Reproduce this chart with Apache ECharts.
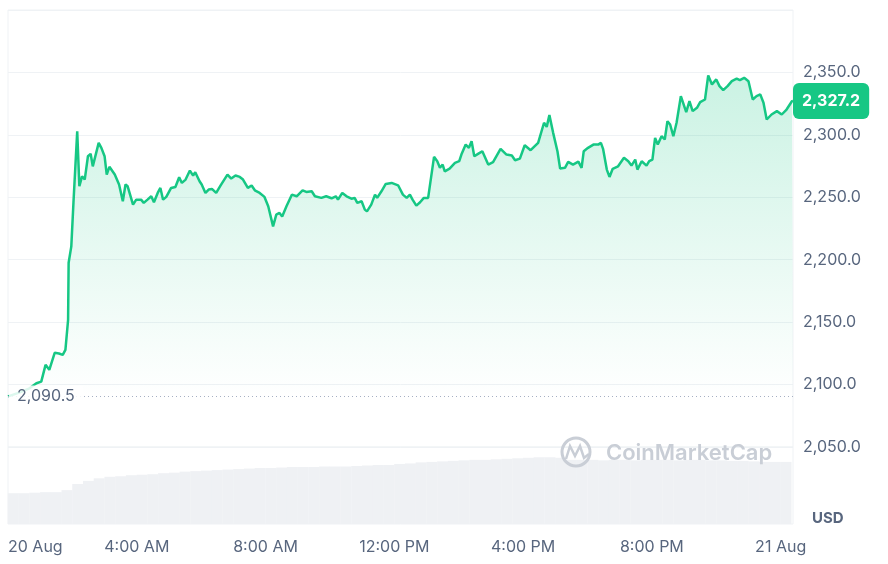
<!DOCTYPE html>
<html>
<head>
<meta charset="utf-8">
<script src="https://cdn.jsdelivr.net/npm/echarts@6/dist/echarts.min.js"></script>
<style>
html,body{margin:0;padding:0;background:#fff;}
#chart{width:888px;height:564px;}
</style>
</head>
<body>
<div id="chart"></div>
<script>
// minutes after 20 Aug 00:00
const times = [
  0,21,40,53,62,70,77,87,95,102,
  107,112,113,118,122,129,133,138,143,149,
  154,158,169,174,180,184,189,199,207,214,
  219,223,233,239,248,253,260,267,272,279,
  284,289,295,304,312,319,324,331,339,345,
  349,357,361,368,374,380,388,396,409,416,
  424,432,438,447,454,460,469,478,485,494,
  500,506,511,519,529,538,549,556,566,572,
  584,593,603,611,615,623,631,640,646,651,
  659,665,669,677,684,688,696,704,715,727,
  736,743,749,754,761,768,775,783,794,800,
  805,810,814,823,833,841,845,853,859,864,
  869,876,884,895,904,918,929,939,945,954,
  963,974,988,999,1004,1009,1016,1024,1029,1038,
  1044,1053,1063,1069,1073,1081,1091,1100,1105,1109,
  1116,1121,1127,1137,1148,1156,1162,1169,1173,1181,
  1190,1195,1201,1206,1211,1218,1224,1229,1234,1240,
  1246,1254,1264,1270,1276,1284,1290,1299,1305,1312,
  1320,1326,1333,1341,1349,1358,1364,1372,1380,1388,
  1395,1402,1408,1414,1423,1433,1442,1451,1461,1463
];
const prices = [
  2090.5,2093.6,2097.0,2101.1,2102.4,2115.8,2111.8,2125.4,2124.9,2123.8,
  2127.8,2151.9,2197.6,2210.7,2245.7,2302.9,2258.8,2266.8,2264.2,2282.9,
  2284.8,2274.8,2293.6,2289.6,2282.9,2268.2,2274.4,2268.2,2260.2,2246.8,
  2260.2,2258.8,2244.1,2248.1,2248.1,2245.5,2248.1,2250.8,2246.0,2253.5,
  2257.5,2248.1,2250.3,2257.5,2258.3,2266.0,2261.5,2264.2,2271.4,2267.4,
  2270.0,2262.8,2260.2,2253.5,2256.2,2256.7,2253.5,2259.4,2268.2,2265.0,
  2267.4,2266.3,2264.2,2257.5,2259.4,2255.6,2253.5,2250.3,2242.8,2226.7,
  2236.1,2237.5,2234.7,2242.8,2252.1,2250.8,2255.6,2254.3,2254.8,2250.8,
  2249.5,2250.8,2249.2,2250.8,2248.1,2253.5,2250.8,2248.9,2249.5,2245.5,
  2246.8,2240.1,2238.7,2244.1,2252.1,2249.5,2254.8,2260.7,2261.5,2259.6,
  2252.1,2249.5,2252.1,2248.1,2243.3,2246.0,2249.5,2249.5,2282.4,2278.9,
  2273.6,2276.2,2270.8,2273.0,2277.6,2278.9,2284.2,2292.2,2289.6,2294.9,
  2282.9,2284.8,2286.9,2276.2,2278.1,2288.8,2284.2,2283.4,2279.7,2281.0,
  2291.7,2287.7,2293.6,2309.7,2306.4,2315.8,2301.6,2286.9,2273.0,2273.6,
  2278.4,2276.2,2278.6,2273.6,2286.9,2289.6,2292.2,2292.2,2293.6,2288.8,
  2272.2,2266.3,2272.8,2274.8,2281.6,2278.9,2275.4,2280.2,2272.2,2278.9,
  2275.4,2278.9,2280.2,2297.6,2292.2,2298.9,2296.3,2310.9,2308.3,2298.9,
  2309.7,2331.0,2318.2,2327.0,2319.0,2321.7,2326.2,2328.3,2347.6,2340.4,
  2344.4,2339.0,2335.8,2339.0,2343.0,2345.0,2343.8,2345.7,2343.0,2328.3,
  2331.0,2332.4,2325.7,2312.3,2316.3,2319.0,2316.3,2320.3,2326.9,2327.2
];
// volume bars (20-minute buckets, centre minute) and values (relative units)
const volTimes = [
  10,30,50,70,90,110,130,150,170,190,
  210,230,250,270,290,310,330,350,370,390,
  410,430,450,470,490,510,530,550,570,590,
  610,630,650,670,690,710,730,750,770,790,
  810,830,850,870,890,910,930,950,970,990,
  1010,1030,1050,1070,1090,1110,1130,1150,1170,1190,
  1210,1230,1250,1270,1290,1310,1330,1350,1370,1390,
  1410,1430,1450
];
const volumes = [
  6.0,6.0,6.1,6.2,6.2,6.6,7.8,8.4,8.9,9.2,
  9.3,9.5,9.6,9.7,9.9,10.0,10.2,10.3,10.4,10.5,
  10.6,10.7,10.8,10.9,10.9,11.0,11.1,11.1,11.1,11.2,
  11.2,11.2,11.3,11.4,11.5,11.5,11.7,11.8,12.0,12.1,
  12.2,12.3,12.4,12.5,12.5,12.6,12.7,12.8,12.9,13.0,
  13.0,12.9,12.5,12.5,12.5,12.4,12.5,12.5,12.4,12.5,
  12.5,12.5,12.4,12.5,12.5,12.4,12.4,12.3,12.3,12.2,
  12.1,12.1,12.1
];
const xTickMinutes = [0,240,480,720,960,1200,1440];
const xTickLabels = ['20 Aug','4:00 AM','8:00 AM','12:00 PM','4:00 PM','8:00 PM','21 Aug'];
const priceTicks = [2050,2100,2150,2200,2250,2300,2350];
const priceTickLabels = ['2,050.0','2,100.0','2,150.0','2,200.0','2,250.0','2,300.0','2,350.0'];
const openPrice = 2090.5;
const openLabel = '2,090.5';
const lastPrice = 2327.2;
const lastLabel = '2,327.2';

const FONT = 'Inter, "Noto Sans", sans-serif';
const LABEL_COLOR = '#58667e';
const GREEN = '#16c784';
const GRID_LINE = '#eff2f5';

const chart = echarts.init(document.getElementById('chart'), null, {renderer: 'canvas'});
const priceData = times.map((t, i) => [t, prices[i]]);
const volData = volTimes.map((t, i) => [t, volumes[i]]);

chart.setOption({
  animation: false,
  backgroundColor: '#fff',
  textStyle: {fontFamily: FONT},
  grid: [
    {left: 8, right: 95, top: 10, bottom: 117, show: true, borderColor: GRID_LINE, borderWidth: 1},
    {left: 8, right: 95, top: 447, bottom: 40, show: true, borderColor: GRID_LINE, borderWidth: 1}
  ],
  xAxis: [
    {type: 'value', gridIndex: 0, min: 0, max: 1463, interval: 240,
     axisLine: {show: false}, axisTick: {show: false}, axisLabel: {show: false}, splitLine: {show: false}},
    {type: 'value', gridIndex: 1, min: 0, max: 1463, interval: 240,
     axisLine: {show: false}, axisTick: {show: false}, splitLine: {show: false},
     axisLabel: {
       color: LABEL_COLOR, fontSize: 16, fontFamily: FONT, margin: 15,
       alignMinLabel: 'left',
       formatter: function (v) { const i = xTickMinutes.indexOf(v); return i >= 0 ? xTickLabels[i] : ''; }
     }}
  ],
  yAxis: [
    {type: 'value', gridIndex: 0, position: 'right', min: 2050, max: 2400, interval: 50,
     axisLine: {show: false}, axisTick: {show: false},
     splitLine: {show: true, lineStyle: {color: GRID_LINE, width: 1}},
     axisLabel: {
       color: LABEL_COLOR, fontSize: 16, fontFamily: FONT, margin: 10,
       formatter: function (v) { const i = priceTicks.indexOf(v); return i >= 0 ? priceTickLabels[i] : ''; }
     }},
    {type: 'value', gridIndex: 1, min: 0, max: 15, show: false, splitLine: {show: false}}
  ],
  series: [
    {
      type: 'bar', xAxisIndex: 1, yAxisIndex: 1, data: volData,
      barWidth: 11, itemStyle: {color: '#eff1f4'}, silent: true
    },
    {
      type: 'line', xAxisIndex: 0, yAxisIndex: 0, data: priceData,
      showSymbol: false, symbol: 'none', smooth: false,
      lineStyle: {color: GREEN, width: 2.5},
      areaStyle: {
        origin: openPrice,
        color: new echarts.graphic.LinearGradient(0, 0, 0, 1, [
          {offset: 0, color: 'rgba(22,199,132,0.32)'},
          {offset: 1, color: 'rgba(22,199,132,0.0)'}
        ])
      },
      silent: true,
      markLine: {
        silent: true,
        symbol: ['none', 'none'],
        animation: false,
        data: [
          {
            yAxis: openPrice,
            lineStyle: {type: [1, 3], color: '#a6b0c3', width: 1},
            label: {
              show: true, position: 'insideStart', distance: 1,
              formatter: openLabel, color: LABEL_COLOR, fontSize: 16, fontFamily: FONT,
              backgroundColor: 'rgba(255,255,255,0.85)', padding: [3, 8, 3, 8]
            }
          },
          {
            yAxis: lastPrice,
            lineStyle: {color: 'rgba(0,0,0,0)', width: 0},
            label: {
              show: true, position: 'end', distance: 0,
              formatter: lastLabel, color: '#fff', fontSize: 16, fontWeight: 'bold', fontFamily: FONT,
              backgroundColor: GREEN, padding: [10, 9, 10, 9], borderRadius: 6
            }
          }
        ]
      }
    }
  ],
  graphic: [
    {type: 'text', z: 20, x: 812, y: 518,
     style: {text: 'USD', fill: LABEL_COLOR, font: 'bold 15px ' + FONT, textVerticalAlign: 'middle', verticalAlign: 'middle'}},
    {type: 'circle', z: 20, shape: {cx: 576, cy: 452, r: 14},
     style: {fill: 'none', stroke: '#c9ced6', lineWidth: 3}},
    {type: 'polyline', z: 20, shape: {points: [[566, 459], [570, 446], [575, 456], [580, 446], [584, 458], [589, 454]]},
     style: {fill: 'none', stroke: '#c9ced6', lineWidth: 2.5}},
    {type: 'text', z: 20, x: 606, y: 453,
     style: {text: 'CoinMarketCap', fill: '#c9ced6', font: '600 22px ' + FONT, textVerticalAlign: 'middle', verticalAlign: 'middle'}}
  ]
});
</script>
</body>
</html>
